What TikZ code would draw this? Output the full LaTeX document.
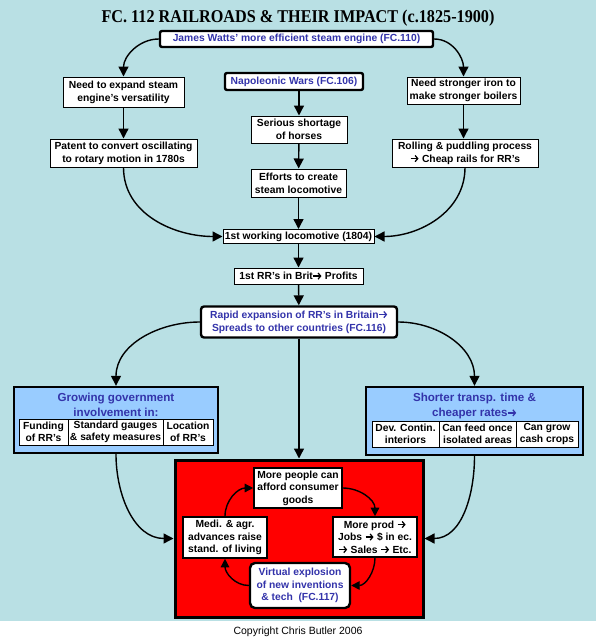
\documentclass[tikz,border=0pt]{standalone}
\usepackage{graphicx}
\usepackage{fontspec}
\setmainfont{Liberation Sans}
\newfontfamily\titlefont{Liberation Serif}
\usetikzlibrary{arrows.meta}
\newcommand{\rarr}{\tikz[baseline=-3.6pt]\draw[line width=1.25pt,-{Straight Barb[length=2.6pt,width=6.2pt,line width=1.25pt]}] (0pt,0pt) -- (8pt,0pt);}
\definecolor{bgblue}{RGB}{185,224,228}
\definecolor{txtblue}{RGB}{51,51,170}
\definecolor{boxblue}{RGB}{153,204,255}
\begin{document}
\begin{tikzpicture}[x=1pt,y=-1pt,
  every node/.style={inner sep=0pt, align=center, font=\fontsize{10.3}{13}\selectfont\bfseries},
  box/.style={draw=black, line width=1pt, fill=white},
  keybox/.style={draw=black, line width=2.4pt, fill=white, rounded corners=2pt, text=txtblue},
  groupbox/.style={draw=black, line width=2.4pt, fill=boxblue},
  grouptitle/.style={text=txtblue, font=\fontsize{11.6}{15}\selectfont\bfseries},
  cell/.style={draw=black, line width=0.8pt, fill=white, minimum height=26pt, font=\fontsize{10.3}{12.5}\selectfont\bfseries},
  cyclebox/.style={draw=black, line width=1.6pt, fill=white, font=\fontsize{10.3}{12.5}\selectfont\bfseries},
  arr/.style={-{Triangle[length=10pt,width=10pt]}, line width=1.4pt},
  carr/.style={-{Triangle[length=8.5pt,width=8.5pt]}, line width=1.4pt}
]
\useasboundingbox (0,0) rectangle (596,640);
\fill[bgblue] (0,0) rectangle (596,621);
\fill[white] (0,621) rectangle (596,640);

\node[anchor=base, font=\titlefont\bfseries\fontsize{18}{18}\selectfont] (title) at (298,22.5)
  {\scalebox{0.9}[1]{FC. 112 RAILROADS \& THEIR IMPACT (c.1825-1900)}};

\node[keybox, minimum width=273pt, minimum height=16pt] (james) at (296.5,39) {James Watts' more efficient steam engine (FC.110)};
\node[box, minimum width=121pt, minimum height=30pt] (needexp) at (123.5,92) {Need to expand steam\\engine's versatility};
\node[keybox, minimum width=138pt, minimum height=17pt] (napo) at (294,81.5) {Napoleonic Wars (FC.106)};
\node[box, minimum width=113pt, minimum height=27pt] (needstr) at (463.5,90.5) {Need stronger iron to\\make stronger boilers};
\node[box, minimum width=147pt, minimum height=28pt] (patent) at (123.5,153) {Patent to convert oscillating\\to rotary motion in 1780s};
\node[box, minimum width=96pt, minimum height=27pt] (serious) at (299,129.5) {Serious shortage\\of horses};
\node[box, minimum width=146pt, minimum height=28pt] (rolling) at (465,153) {Rolling \& puddling process\\\rarr{} Cheap rails for RR's};
\node[box, minimum width=95pt, minimum height=28pt] (efforts) at (298.5,183) {Efforts to create\\steam locomotive};
\node[box, minimum width=151pt, minimum height=14pt] (working) at (298.5,236.5) {1st working locomotive (1804)};
\node[box, minimum width=129pt, minimum height=16pt] (brit) at (298.5,276) {1st RR's in Brit\rarr{} Profits};
\node[keybox, rounded corners=3pt, minimum width=196pt, minimum height=31pt] (rapid) at (299,322) {Rapid expansion of RR's in Britain\rarr\\Spreads to other countries (FC.116)};

% government box
\node[groupbox, minimum width=204pt, minimum height=66pt] (gov) at (116,420) {};
\node[grouptitle] (govt) at (116,405) {Growing government\\involvement in:};
\node[cell, minimum width=49pt] (g1) at (43.5,432) {Funding\\of RR's};
\node[cell, minimum width=95pt] (g2) at (115.5,432) {Standard gauges\\\& safety measures};
\node[cell, minimum width=50pt] (g3) at (188,432) {Location\\of RR's};

% shorter box
\node[groupbox, minimum width=217pt, minimum height=68pt] (shorter) at (474.5,421) {};
\node[grouptitle] (shortt) at (474.5,406) {Shorter transp. time \&\\cheaper rates\rarr};
\node[cell, minimum width=67pt] (s1) at (405.5,434) {Dev. Contin.\\interiors};
\node[cell, minimum width=77pt] (s2) at (477.5,434) {Can feed once\\isolated areas};
\node[cell, minimum width=62pt] (s3) at (547,434) {Can grow\\cash crops};

% red box
\node[draw=black, line width=3pt, fill=red, minimum width=248pt, minimum height=157pt] (redbox) at (299,538.5) {};
\node[cyclebox, minimum width=88pt, minimum height=40pt] (people) at (298,488) {More people can\\afford consumer\\goods};
\node[cyclebox, minimum width=84pt, minimum height=40pt] (prod) at (375,537) {More prod \rarr\\Jobs \rarr{} \$ in ec.\\\rarr{} Sales \rarr{} Etc.};
\node[cyclebox, minimum width=84pt, minimum height=41pt] (medi) at (225,537.5) {Medi. \& agr.\\advances raise\\stand. of living};
\node[keybox, rounded corners=5pt, minimum width=100pt, minimum height=45pt, font=\fontsize{10.3}{12.5}\selectfont\bfseries] (virtual) at (300,585.5) {Virtual explosion\\of new inventions\\\& tech~~(FC.117)};

\node[font=\fontsize{10.5}{12}\selectfont] (copy) at (298,632) {Copyright Chris Butler 2006};

% connectors
\draw[arr] (james.west) to[out=180,in=90] (needexp.north);
\draw[arr] (james.east) to[out=0,in=90] (needstr.north);
\draw[arr] (needexp) -- (patent);
\draw[arr] (needstr.south) -- (needstr.south |- rolling.north);
\draw[arr] (napo.south -| serious.north) -- (serious.north);
\draw[arr] (serious) -- (efforts);
\draw[arr] (efforts) -- (working);
\draw[arr] (patent.south) to[out=-90,in=180] (working.west);
\draw[arr] (rolling.south) to[out=-90,in=0] (working.east);
\draw[arr] (working) -- (brit);
\draw[arr] (brit) -- (rapid);
\draw[arr] (rapid.west) to[out=180,in=90] (gov.north);
\draw[arr] (rapid.east) to[out=0,in=90] (shorter.north);
\draw[arr] (rapid) -- (redbox);
\draw[arr] (gov.south) to[out=-90,in=180] (redbox.west);
\draw[arr] (shorter.south) to[out=-90,in=0] (redbox.east);

\draw[carr] (people.east) to[out=0,in=90] (prod.north);
\draw[carr] (prod.south) to[out=-90,in=0] (virtual.east);
\draw[carr] (virtual.west) to[out=180,in=-90] (medi.south);
\draw[carr] (medi.north) to[out=90,in=180] (people.west);
\end{tikzpicture}
\end{document}
